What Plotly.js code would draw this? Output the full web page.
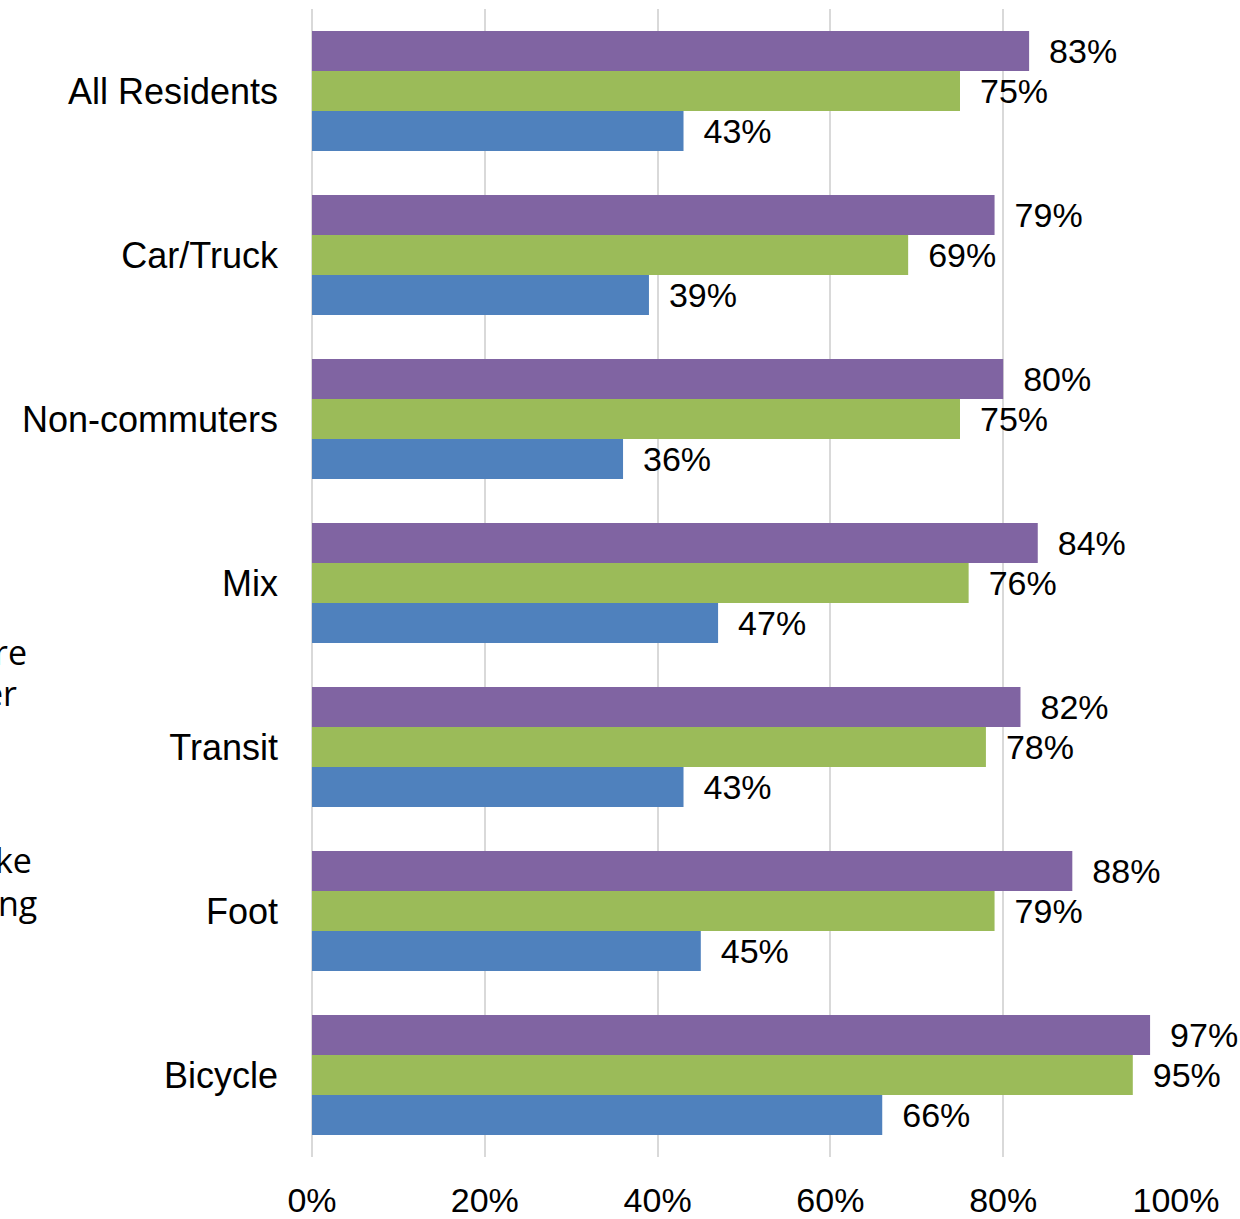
<!DOCTYPE html>
<html>
<head>
<meta charset="utf-8">
<script src="https://cdn.plot.ly/plotly-3.0.1.min.js"></script>
<style>html,body{margin:0;padding:0;background:#fff;}#chart{width:1240px;height:1219px;}</style>
</head>
<body>
<div id="chart"></div>
<script>
const categories = ["All Residents", "Car/Truck", "Non-commuters", "Mix", "Transit", "Foot", "Bicycle"];
const purpleValues = [83, 79, 80, 84, 82, 88, 97];
const greenValues = [75, 69, 75, 76, 78, 79, 95];
const blueValues = [43, 39, 36, 47, 43, 45, 66];
const xTickValues = [0, 20, 40, 60, 80, 100];
const xTickLabels = ["0%", "20%", "40%", "60%", "80%", "100%"];
const sideFragments = ["re", "er", "ke", "ng"];

const W = 1240, H = 1219;
const M = {l: 312, r: 64, t: 9, b: 62};
const plotH = H - M.t - M.b;
const plotW = W - M.l - M.r;
const pxToPaperX = px => (px - M.l) / plotW;
const pxToPaperY = py => 1 - (py - M.t) / plotH;

const numFont = {family: "Liberation Sans Narrow, Liberation Sans, sans-serif", size: 34, color: "#000"};
const catFont = {family: "Liberation Sans, sans-serif", size: 36, color: "#000"};

function mk(vals, color) {
  return {
    type: "bar", orientation: "h",
    y: categories, x: vals,
    marker: {color: color},
    text: vals.map(v => "\u2002" + v + "%"),
    textposition: "outside",
    textfont: numFont,
    constraintext: "none",
    cliponaxis: false,
    hoverinfo: "skip"
  };
}

const data = [mk(purpleValues, "#8064A2"), mk(greenValues, "#9BBB59"), mk(blueValues, "#4F81BD")];

const fragPos = [[29, 652], [19, 693], [34, 860], [39, 903]];
const annotations = sideFragments.map((t, i) => ({
  text: t, xref: "paper", yref: "paper",
  x: pxToPaperX(fragPos[i][0]), y: pxToPaperY(fragPos[i][1]),
  xanchor: "right", yanchor: "middle", showarrow: false,
  font: {family: "Open Sans, sans-serif", size: 34, color: "#000"}
}));

const layout = {
  width: W, height: H,
  margin: M,
  paper_bgcolor: "#fff", plot_bgcolor: "#fff",
  barmode: "group", bargap: 0.268, bargroupgap: 0,
  showlegend: false,
  xaxis: {
    range: [0, 100], tickvals: xTickValues, ticktext: xTickLabels,
    showgrid: true, gridcolor: "#D9D9D9", gridwidth: 2,
    zeroline: true, zerolinecolor: "#D9D9D9", zerolinewidth: 2,
    showline: false, ticks: "", tickfont: numFont, ticklabelstandoff: 20,
    fixedrange: true
  },
  yaxis: {
    autorange: "reversed", showgrid: false, zeroline: false, showline: false,
    ticks: "", tickfont: catFont, ticklabelstandoff: 33, fixedrange: true
  },
  annotations: annotations
};

Plotly.newPlot("chart", data, layout, {staticPlot: true, displayModeBar: false});
</script>
</body>
</html>
